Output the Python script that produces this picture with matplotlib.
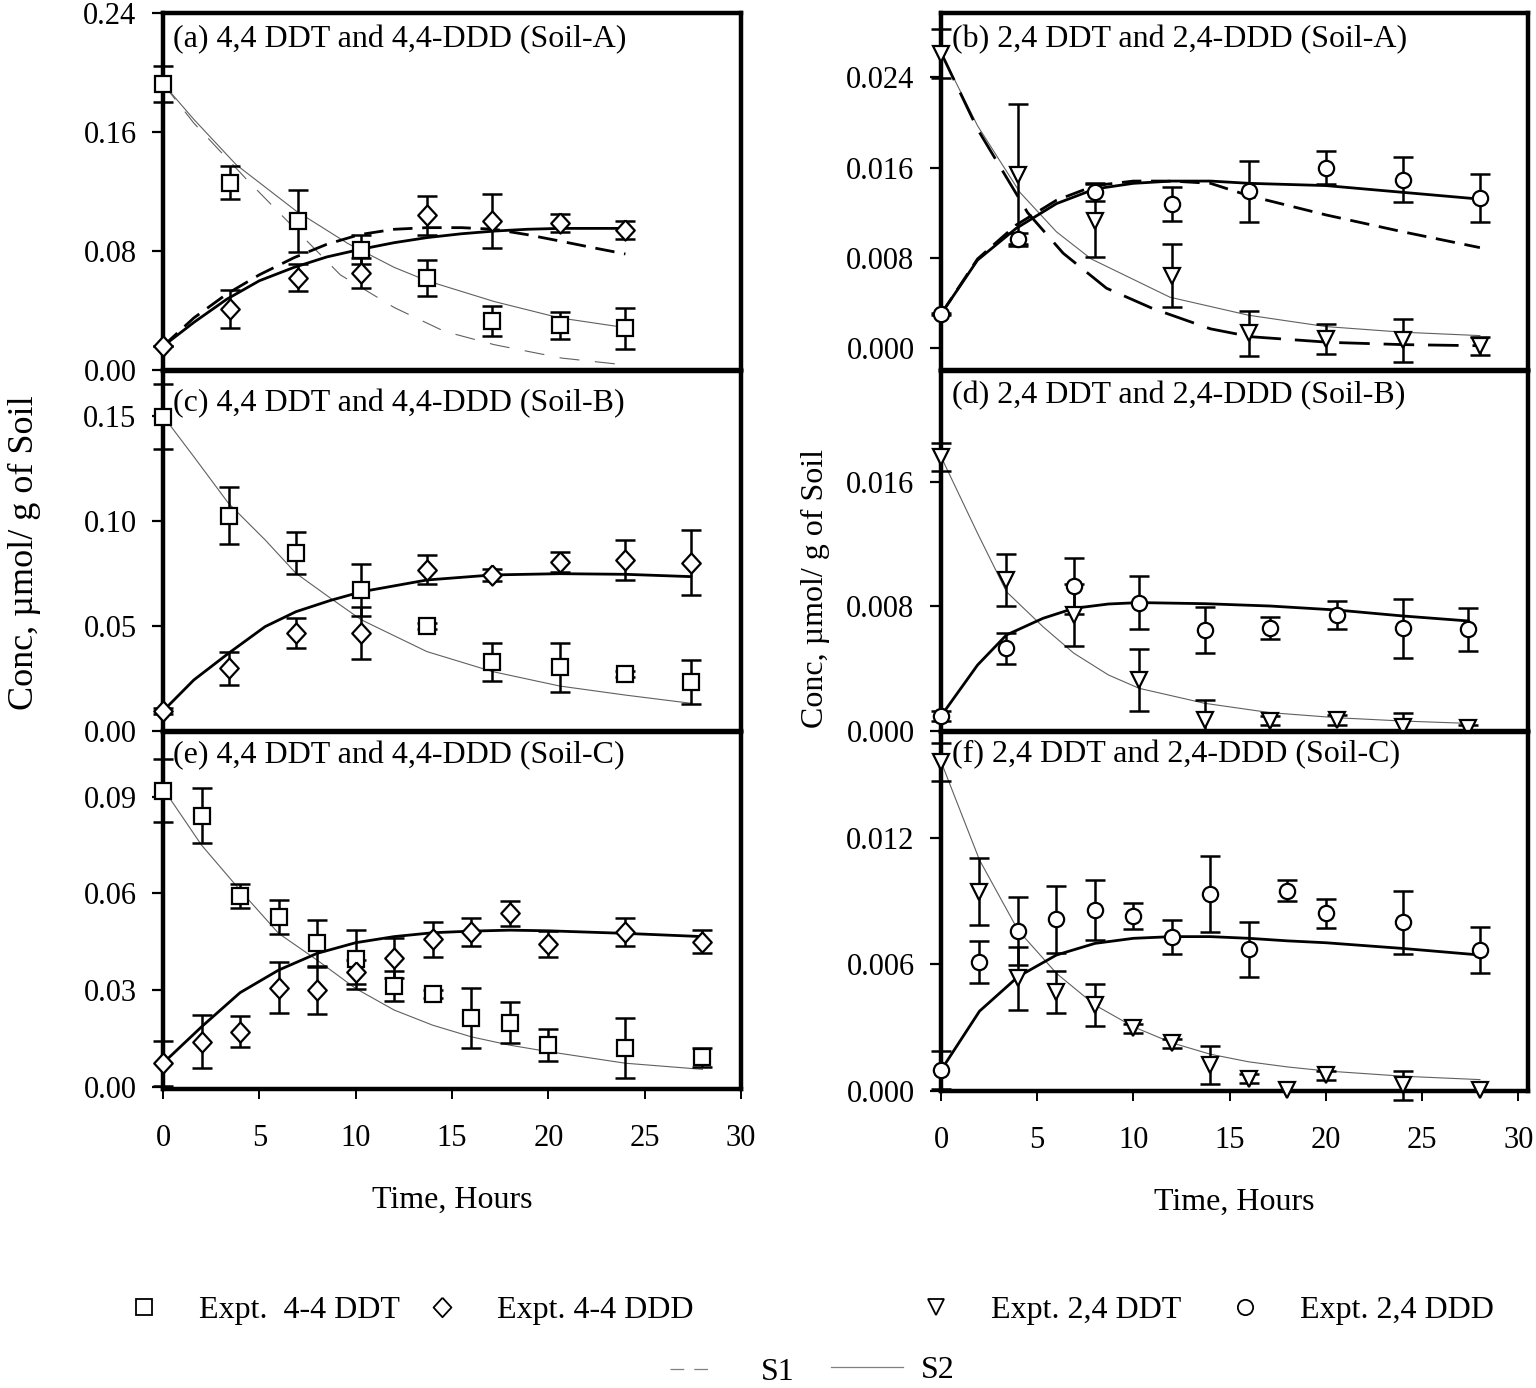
import matplotlib.pyplot as plt
from matplotlib.lines import Line2D

plt.rcParams['font.family'] = ['Liberation Serif', 'DejaVu Serif']

# ---- (a) 4,4 DDT / 4,4-DDD, Soil-A
t_a = [0, 3.5, 7, 10.3, 13.7, 17.1, 20.6, 24]
ddt_a = [0.1925, 0.126, 0.100, 0.081, 0.062, 0.033, 0.030, 0.028]
ddt_a_err = [0.012, 0.011, 0.021, 0.010, 0.012, 0.010, 0.009, 0.014]
ddd_a = [0.016, 0.041, 0.062, 0.065, 0.104, 0.100, 0.099, 0.094]
ddd_a_err = [0.0, 0.013, 0.009, 0.010, 0.013, 0.018, 0.006, 0.006]
tc_a1 = [0, 1.6, 3.8, 6.9, 9.6, 12, 13.7, 17.2, 20.6, 24]
s2_ddt_a = [0.1925, 0.1685, 0.138, 0.107, 0.085, 0.069, 0.060, 0.046, 0.035, 0.0285]
tc_a2 = [0, 1.6, 4.35, 6.2, 7.3, 9.2, 12, 14.6, 17.2, 20.7, 24]
s1_ddt_a = [0.1925, 0.166, 0.128, 0.1035, 0.089, 0.064, 0.042, 0.026, 0.017, 0.008, 0.0034]
tc_a3 = [0, 1.6, 3.3, 5.0, 6.8, 8.5, 10.2, 12, 13.7, 15.5, 17.2, 18.9, 20.6, 22.4, 24]
s1_ddd_a = [0.016, 0.035, 0.051, 0.064, 0.0755, 0.0845, 0.091, 0.0946, 0.0957, 0.0957,
            0.0946, 0.091, 0.0867, 0.082, 0.078]
s2_ddd_a = [0.016, 0.032, 0.0475, 0.060, 0.069, 0.076, 0.081, 0.0856, 0.089, 0.0916,
            0.0934, 0.0946, 0.0952, 0.0952, 0.0952]

# ---- (b) 2,4 DDT / 2,4-DDD, Soil-A
t_b = [0, 4, 8, 12, 16, 20, 24, 28]
ddt_b = [0.0261, 0.0153, 0.0113, 0.0064, 0.0013, 0.0008, 0.0007, 0.0002]
ddt_b_err = [0.0022, 0.0063, 0.0032, 0.0028, 0.0020, 0.0013, 0.0019, 0.0008]
ddd_b = [0.0030, 0.0097, 0.0138, 0.0128, 0.0139, 0.0160, 0.0149, 0.0133]
ddd_b_err = [0.0001, 0.0005, 0.0008, 0.0015, 0.0027, 0.0015, 0.0020, 0.0021]
tc_b1 = [0, 1.9, 4.1, 6, 7.8, 11.9, 16, 20, 24, 28]
s2_ddt_b = [0.0262, 0.0197, 0.0138, 0.0103, 0.0079, 0.0045, 0.0029, 0.0019, 0.0014, 0.0011]
tc_b2 = [0, 1.9, 4.5, 6.35, 8.6, 11, 14, 16.1, 20.2, 24, 28]
s1_ddt_b = [0.0262, 0.0194, 0.012, 0.0084, 0.0053, 0.0035, 0.0017, 0.0010, 0.0005, 0.0003, 0.0002]
tc_b3 = [0, 1.9, 3.9, 6, 8, 10, 12, 14, 16, 20, 24, 28]
s1_ddd_b = [0.003, 0.0079, 0.0109, 0.0131, 0.0144, 0.0148, 0.0148, 0.0146, 0.0135, 0.0118, 0.0103, 0.0089]
s2_ddd_b = [0.003, 0.0078, 0.0106, 0.0128, 0.0141, 0.0146, 0.0148, 0.0148, 0.0146, 0.0144, 0.0138, 0.0132]

# ---- (c) 4,4 DDT / 4,4-DDD, Soil-B
t_c = [0, 3.4, 6.9, 10.3, 13.7, 17.1, 20.6, 24, 27.4]
ddt_c = [0.1497, 0.1025, 0.0846, 0.0671, 0.050, 0.033, 0.0303, 0.0271, 0.0235]
ddt_c_err = [0.0155, 0.0136, 0.010, 0.0125, 0.0015, 0.0091, 0.0116, 0.0015, 0.0105]
ddd_c = [0.0095, 0.0298, 0.0465, 0.0468, 0.0767, 0.0743, 0.0806, 0.0814, 0.0802]
ddd_c_err = [0.0015, 0.0077, 0.0072, 0.0123, 0.0069, 0.0028, 0.0048, 0.0097, 0.0155]
tc_c = [0, 1.6, 3.4, 5.3, 6.9, 8.7, 10.3, 13.7, 17.1, 20.6, 24, 27.4]
s2_ddt_c = [0.150, 0.1306, 0.1084, 0.091, 0.0751, 0.0632, 0.0529, 0.0378, 0.0283, 0.0214, 0.0171, 0.0132]
s2_ddd_c = [0.0095, 0.0243, 0.037, 0.0497, 0.0568, 0.0622, 0.0663, 0.0719, 0.0743, 0.0749, 0.0746, 0.0735]

# ---- (d) 2,4 DDT / 2,4-DDD, Soil-B
t_d = [0, 3.4, 6.9, 10.3, 13.7, 17.1, 20.6, 24, 27.4]
ddt_d = [0.01763, 0.0097, 0.00745, 0.00328, 0.00071, 0.00066, 0.0007, 0.00028, 0.00017]
ddt_d_err = [0.0009, 0.0017, 0.0020, 0.0020, 0.0013, 0.0003, 0.0003, 0.0009, 0.0002]
ddd_d = [0.00096, 0.00531, 0.00932, 0.00825, 0.00649, 0.0066, 0.00745, 0.0066, 0.00653]
ddd_d_err = [0.0003, 0.0010, 0.0018, 0.0017, 0.0015, 0.0007, 0.0009, 0.0019, 0.0014]
tc_d = [0, 1.9, 3.4, 5.3, 6.9, 8.7, 10.3, 13.7, 17.1, 20.6, 24, 27.4]
s2_ddt_d = [0.01763, 0.0127, 0.00895, 0.0067, 0.0050, 0.0036, 0.00274, 0.00178, 0.00118, 0.00085, 0.00064, 0.00049]
s2_ddd_d = [0.00096, 0.00424, 0.00617, 0.00724, 0.00788, 0.00816, 0.00825, 0.00818, 0.00803, 0.00777, 0.00739, 0.00707]

# ---- (e) 4,4 DDT / 4,4-DDD, Soil-C
t_e = [0, 2, 4, 6, 8, 10, 12, 14, 16, 18, 20, 24, 28]
ddt_e = [0.0919, 0.0841, 0.0592, 0.0526, 0.0445, 0.0395, 0.0313, 0.0287, 0.0214, 0.0199, 0.0129, 0.0119, 0.0091]
ddt_e_err = [0.0097, 0.0086, 0.0037, 0.0053, 0.0073, 0.0093, 0.0047, 0.0012, 0.0093, 0.0064, 0.0050, 0.0093, 0.0030]
ddd_e = [0.0073, 0.0140, 0.0171, 0.0307, 0.0300, 0.0355, 0.0400, 0.0457, 0.0481, 0.0538, 0.0443, 0.0481, 0.0450]
ddd_e_err = [0.0070, 0.0082, 0.0048, 0.0079, 0.0075, 0.0037, 0.0063, 0.0055, 0.0044, 0.0040, 0.0041, 0.0043, 0.0036]
s2_ddt_e = [0.0926, 0.075, 0.061, 0.0476, 0.0393, 0.0305, 0.0238, 0.0191, 0.0155, 0.0129, 0.0109, 0.0073, 0.0054]
s2_ddd_e = [0.0073, 0.0186, 0.0292, 0.0362, 0.0414, 0.0447, 0.0466, 0.0478, 0.0483, 0.0486, 0.0484, 0.0476, 0.0466]

# ---- (f) 2,4 DDT / 2,4-DDD, Soil-C
t_f = [0, 2, 4, 6, 8, 10, 12, 14, 16, 18, 20, 24, 28]
ddt_f = [0.0156, 0.00944, 0.00533, 0.0047, 0.00407, 0.00296, 0.00225, 0.00122, 0.00059, 0.00007, 0.00074, 0.00027, 0.00003]
ddt_f_err = [0.0009, 0.0016, 0.0015, 0.0010, 0.0010, 0.0002, 0.0002, 0.0009, 0.0002, 0.0, 0.0002, 0.0007, 0.0]
ddd_f = [0.00098, 0.00612, 0.00759, 0.00813, 0.00857, 0.00829, 0.00728, 0.00931, 0.00671, 0.00949, 0.00841, 0.00799, 0.00667]
ddd_f_err = [0.0009, 0.0010, 0.0016, 0.0016, 0.0014, 0.0006, 0.0008, 0.0018, 0.0013, 0.0005, 0.0007, 0.0015, 0.0011]
s2_ddt_f = [0.0156, 0.01094, 0.00762, 0.00557, 0.00407, 0.00304, 0.00228, 0.00174, 0.00138, 0.00114, 0.00095, 0.0007, 0.00054]
s2_ddd_f = [0.00098, 0.00378, 0.00541, 0.00644, 0.00699, 0.00723, 0.00731, 0.00731, 0.00723, 0.00711, 0.00702, 0.00675, 0.00644]

x_ticks = [0, 5, 10, 15, 20, 25, 30]
y_label = 'Conc, µmol/ g of Soil'

W, H = 1536, 1388
fig = plt.figure(figsize=(W / 100, H / 100), dpi=100)


def rect(x0, x1, top, bottom):
    return [x0 / W, 1 - bottom / H, (x1 - x0) / W, (bottom - top) / H]


# diamond marker, nearly as wide as tall
DIAMOND = [(0, 1), (0.92, 0), (0, -1), (-0.92, 0), (0, 1)]
thin = dict(color='#606060', lw=0.8, zorder=2)
bold = dict(color='black', lw=2.0, zorder=2)


def points(ax, t, y, err, marker, ms):
    ax.errorbar(t, y, yerr=err, fmt='none', ecolor='black', elinewidth=1.8,
                capsize=7.5, capthick=1.8, clip_on=False, zorder=3)
    ax.plot(t, y, ls='none', marker=marker, ms=ms, mfc='white', mec='black', mew=1.6,
            clip_on=False, zorder=4)


def style(ax, title, ylim, yticks, fmt, xmax, bottom):
    ax.set_xlim(0, xmax)
    ax.set_ylim(*ylim)
    ax.set_yticks(yticks)
    ax.set_yticklabels([fmt.format(v) for v in yticks])
    for s in ax.spines.values():
        s.set_linewidth(3.2)
    ax.tick_params(axis='y', direction='out', length=8, width=1.6, labelsize=22, pad=11)
    if bottom:
        ax.set_xticks(x_ticks)
        ax.tick_params(axis='x', direction='out', length=7, width=1.4, labelsize=22, pad=18)
        ax.set_xlabel('Time, Hours', fontsize=23, labelpad=24)
    else:
        ax.set_xticks([])
    ax.text(0.018, title[1], title[0], transform=ax.transAxes, fontsize=23,
            ha='left', va='center', zorder=5)


# (a)
ax = fig.add_axes(rect(163, 741, 13, 370))
ax.plot(tc_a1, s2_ddt_a, **thin)
ax.plot(tc_a2, s1_ddt_a, dashes=(18, 14), **thin)
ax.plot(tc_a3, s1_ddd_a, dashes=(7, 3.5), **bold)
ax.plot(tc_a3, s2_ddd_a, **bold)
points(ax, t_a, ddt_a, ddt_a_err, 's', 12)
points(ax, t_a, ddd_a, ddd_a_err, DIAMOND, 14.5)
style(ax, ('(a) 4,4 DDT and 4,4-DDD (Soil-A)', 0.925), (0, 0.24),
      [0, 0.08, 0.16, 0.24], '{:.2f}', 30, False)

# (c)
ax = fig.add_axes(rect(163, 741, 371, 731))
ax.plot(tc_c, s2_ddt_c, **thin)
ax.plot(tc_c, s2_ddd_c, **bold)
points(ax, t_c, ddt_c, ddt_c_err, 's', 12)
points(ax, t_c, ddd_c, ddd_c_err, DIAMOND, 14.5)
style(ax, ('(c) 4,4 DDT and 4,4-DDD (Soil-B)', 0.91), (0, 0.1714),
      [0, 0.05, 0.10, 0.15], '{:.2f}', 30, False)

# (e)
ax = fig.add_axes(rect(163, 741, 732, 1089))
ax.plot(t_e, s2_ddt_e, **thin)
ax.plot(t_e, s2_ddd_e, **bold)
points(ax, t_e, ddt_e, ddt_e_err, 's', 12)
points(ax, t_e, ddd_e, ddd_e_err, DIAMOND, 14.5)
style(ax, ('(e) 4,4 DDT and 4,4-DDD (Soil-C)', 0.935), (-0.0007, 0.1101),
      [0, 0.03, 0.06, 0.09], '{:.2f}', 30, True)

# (b)
ax = fig.add_axes(rect(941, 1528, 13, 370))
ax.plot(tc_b1, s2_ddt_b, **thin)
ax.plot(tc_b2, s1_ddt_b, dashes=(11, 5), **bold)
ax.plot(tc_b3, s1_ddd_b, dashes=(7, 3.5), **bold)
ax.plot(tc_b3, s2_ddd_b, **bold)
points(ax, t_b, ddt_b, ddt_b_err, 'v', 12)
points(ax, t_b, ddd_b, ddd_b_err, 'o', 11)
style(ax, ('(b) 2,4 DDT and 2,4-DDD (Soil-A)', 0.925), (-0.00195, 0.0297),
      [0, 0.008, 0.016, 0.024], '{:.3f}', 30.5, False)

# (d)
ax = fig.add_axes(rect(941, 1528, 371, 731))
ax.plot(tc_d, s2_ddt_d, **thin)
ax.plot(tc_d, s2_ddd_d, **bold)
points(ax, t_d, ddt_d, ddt_d_err, 'v', 12)
points(ax, t_d, ddd_d, ddd_d_err, 'o', 11)
style(ax, ('(d) 2,4 DDT and 2,4-DDD (Soil-B)', 0.933), (0, 0.02313),
      [0, 0.008, 0.016], '{:.3f}', 30.5, False)

# (f)
ax = fig.add_axes(rect(941, 1528, 732, 1091))
ax.plot(t_f, s2_ddt_f, **thin)
ax.plot(t_f, s2_ddd_f, **bold)
points(ax, t_f, ddt_f, ddt_f_err, 'v', 12)
points(ax, t_f, ddd_f, ddd_f_err, 'o', 11)
style(ax, ('(f) 2,4 DDT and 2,4-DDD (Soil-C)', 0.936), (0, 0.0170),
      [0, 0.006, 0.012], '{:.3f}', 30.5, True)

# y-axis titles
fig.text(24 / W, 1 - 553 / H, y_label, rotation=90, fontsize=26, ha='center', va='center')
fig.text(815 / W, 1 - 588 / H, y_label, rotation=90, fontsize=23, ha='center', va='center')


# legends
def mk(marker, ms):
    return Line2D([], [], ls='none', marker=marker, ms=ms, mfc='white', mec='black', mew=1.3)


EM = 23 * 100 / 72
leg_kw = dict(frameon=False, fontsize=23, handlelength=1.0, handletextpad=1.22,
              borderaxespad=0, borderpad=0, loc='center left')
legend_items = [(mk('s', 11), 'Expt.  4-4 DDT', 144), (mk(DIAMOND, 14), 'Expt. 4-4 DDD', 442),
                (mk('v', 11), 'Expt. 2,4 DDT', 936), (mk('o', 11), 'Expt. 2,4 DDD', 1245)]
for handle, label, xm in legend_items:
    fig.legend([handle], [label], bbox_to_anchor=((xm - EM / 2) / W, 1 - 1310 / H), **leg_kw)

fig.legend([Line2D([], [], color='#808080', lw=0.9, dashes=(11, 8))], ['S1'],
           bbox_to_anchor=(670 / W, 1 - 1372 / H), frameon=False, loc='center left',
           fontsize=23, handlelength=42 / EM, handletextpad=49 / EM, borderaxespad=0, borderpad=0)
fig.legend([Line2D([], [], color='#808080', lw=0.9)], ['S2'],
           bbox_to_anchor=(831 / W, 1 - 1370 / H), frameon=False, loc='center left',
           fontsize=23, handlelength=72 / EM, handletextpad=18 / EM, borderaxespad=0, borderpad=0)

fig.savefig('out.png', dpi=100)
